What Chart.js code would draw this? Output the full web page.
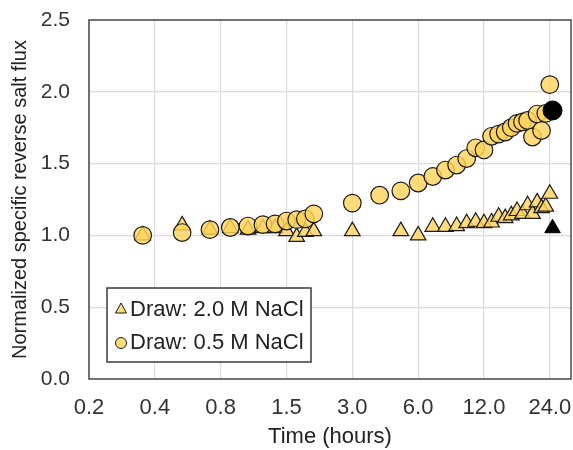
<!DOCTYPE html>
<html>
<head>
<meta charset="utf-8">
<script src="https://cdn.jsdelivr.net/npm/chart.js@4/dist/chart.umd.min.js"></script>
<style>
  html, body { margin: 0; padding: 0; background: #fff; }
  #wrap { width: 573px; height: 450px; position: relative; }
</style>
</head>
<body>
<div id="wrap"><canvas id="c" width="573" height="450"></canvas></div>
<script>
// Sampling times (hours) and normalized specific reverse salt flux
const circleHours = [0.33, 0.5, 0.67, 0.83, 1.0, 1.17, 1.33, 1.5, 1.67, 1.83, 2.0,
  3, 4, 5, 6, 7, 8, 9, 10, 11, 12, 13, 14, 15, 16, 17, 18, 19, 20, 21, 22, 23, 24];
const circleFlux = [1.00, 1.02, 1.04, 1.055, 1.065, 1.075, 1.08, 1.10, 1.11, 1.115, 1.15,
  1.225, 1.28, 1.31, 1.365, 1.41, 1.455, 1.49, 1.535, 1.61, 1.595, 1.69, 1.705, 1.72, 1.75,
  1.78, 1.79, 1.80, 1.685, 1.845, 1.73, 1.85, 2.05];

const triangleHours = [0.33, 0.5, 0.67, 0.83, 1.0, 1.17, 1.33, 1.5, 1.67, 1.83, 2.0,
  3, 5, 6, 7, 8, 9, 10, 11, 12, 13, 14, 15, 16, 17, 18, 19, 20, 21, 22, 23, 24];
const triangleFlux = [1.00, 1.07, 1.04, 1.05, 1.04, 1.05, 1.05, 1.03, 0.99, 1.025, 1.03,
  1.03, 1.03, 1.00, 1.06, 1.06, 1.065, 1.085, 1.095, 1.085, 1.09, 1.13, 1.12, 1.14, 1.17,
  1.15, 1.21, 1.15, 1.23, 1.19, 1.20, 1.29];

// Final (black) points
const finalHours = [24.7];
const finalCircleFlux = [1.87];
const finalTriangleFlux = [1.05];

const seriesLabels = ['Draw: 2.0 M NaCl', 'Draw: 0.5 M NaCl'];

// Log2-spaced time axis
const xTickValues = [0.1875, 0.375, 0.75, 1.5, 3, 6, 12, 24];
const xTickLabels = ['0.2', '0.4', '0.8', '1.5', '3.0', '6.0', '12.0', '24.0'];
const yTickLabels = ['0.0', '0.5', '1.0', '1.5', '2.0', '2.5'];

const FONT = 'Liberation Sans, Arial, sans-serif';
const GOLD = 'rgba(255, 212, 92, 0.82)';
const EDGE = '#1a1a1a';

// Markers may overlap the frame; don't reserve extra room for them
if (Chart.ScatterController) {
  Chart.ScatterController.prototype.getMaxOverflow = function () { return 0; };
}

const toPoints = (xs, ys) => xs.map((x, i) => ({ x: x, y: ys[i] }));

// Framed legend drawn inside the plot area
const boxLegend = {
  id: 'boxLegend',
  afterDatasetsDraw(chart) {
    const ctx = chart.ctx;
    const a = chart.chartArea;
    const x0 = a.left + 18, y0 = a.top + 268, w = 204, h = 74;
    ctx.save();
    ctx.fillStyle = '#fff';
    ctx.fillRect(x0, y0, w, h);
    ctx.strokeStyle = '#3a3a3a';
    ctx.lineWidth = 1.5;
    ctx.strokeRect(x0, y0, w, h);
    const rows = [
      { label: seriesLabels[0], style: 'triangle', y: y0 + 21 },
      { label: seriesLabels[1], style: 'circle', y: y0 + 54 }
    ];
    ctx.font = '22px ' + FONT;
    ctx.textBaseline = 'middle';
    rows.forEach(r => {
      const mx = x0 + 14;
      ctx.fillStyle = GOLD;
      ctx.strokeStyle = EDGE;
      ctx.lineWidth = 1;
      ctx.beginPath();
      if (r.style === 'triangle') {
        ctx.moveTo(mx, r.y - 6);
        ctx.lineTo(mx + 5.5, r.y + 4);
        ctx.lineTo(mx - 5.5, r.y + 4);
        ctx.closePath();
      } else {
        ctx.arc(mx, r.y + 1, 5.5, 0, Math.PI * 2);
      }
      ctx.fill();
      ctx.stroke();
      ctx.fillStyle = '#222';
      ctx.fillText(r.label, x0 + 23, r.y + 1);
    });
    ctx.restore();
  }
};

// Dark frame around the plot area
const plotFrame = {
  id: 'plotFrame',
  beforeDatasetsDraw(chart) {
    const a = chart.chartArea;
    const ctx = chart.ctx;
    ctx.save();
    ctx.strokeStyle = '#555';
    ctx.lineWidth = 1.6;
    ctx.strokeRect(a.left, a.top, a.right - a.left, a.bottom - a.top);
    ctx.restore();
  }
};

new Chart(document.getElementById('c'), {
  type: 'scatter',
  data: {
    datasets: [
      {
        label: seriesLabels[0],
        data: toPoints(triangleHours, triangleFlux),
        pointStyle: 'triangle',
        pointRadius: 9,
        backgroundColor: GOLD,
        borderColor: EDGE,
        borderWidth: 1.2,
        order: 4
      },
      {
        label: seriesLabels[1],
        data: toPoints(circleHours, circleFlux),
        pointStyle: 'circle',
        pointRadius: 8.8,
        backgroundColor: GOLD,
        borderColor: EDGE,
        borderWidth: 1.2,
        order: 3
      },
      {
        label: 'final-triangle',
        data: toPoints(finalHours, finalTriangleFlux),
        pointStyle: 'triangle',
        pointRadius: 9,
        backgroundColor: '#000',
        borderColor: '#000',
        borderWidth: 1,
        order: 2
      },
      {
        label: 'final-circle',
        data: toPoints(finalHours, finalCircleFlux),
        pointStyle: 'circle',
        pointRadius: 9.5,
        backgroundColor: '#000',
        borderColor: '#000',
        borderWidth: 1,
        order: 1
      }
    ]
  },
  options: {
    responsive: false,
    animation: false,
    events: [],
    layout: { padding: { top: 20, right: 2, bottom: 0, left: 0 } },
    plugins: {
      legend: { display: false },
      tooltip: { enabled: false }
    },
    scales: {
      x: {
        type: 'logarithmic',
        min: 0.1875,
        max: 30,
        afterBuildTicks(scale) {
          scale.ticks = xTickValues.map(v => ({ value: v }));
        },
        afterFit(scale) {
          scale.height = 71;
          scale.paddingLeft = 0;
          scale.paddingRight = 0;
        },
        ticks: {
          autoSkip: false,
          maxRotation: 0,
          padding: 16,
          color: '#333',
          font: { family: FONT, size: 22 },
          callback: (v, i) => xTickLabels[i]
        },
        grid: { color: '#dcdcdc', lineWidth: 1.2, drawTicks: false },
        border: { display: false },
        title: {
          display: true,
          text: 'Time (hours)',
          color: '#222',
          font: { family: FONT, size: 22 },
          padding: { top: 0, bottom: 0 }
        }
      },
      y: {
        min: 0,
        max: 2.5,
        afterBuildTicks(scale) {
          scale.ticks = yTickLabels.map(t => ({ value: parseFloat(t) }));
        },
        afterFit(scale) {
          scale.width = 89;
          scale.paddingTop = 0;
          scale.paddingBottom = 0;
        },
        ticks: {
          padding: 19,
          color: '#333',
          font: { family: FONT, size: 21 },
          callback: (v, i) => yTickLabels[i]
        },
        grid: { color: '#dcdcdc', lineWidth: 1.2, drawTicks: false },
        border: { display: false },
        title: {
          display: true,
          text: 'Normalized specific reverse salt flux',
          color: '#222',
          font: { family: FONT, size: 20 },
          padding: { top: 8, bottom: 0 }
        }
      }
    }
  },
  plugins: [plotFrame, boxLegend]
});
</script>
</body>
</html>
